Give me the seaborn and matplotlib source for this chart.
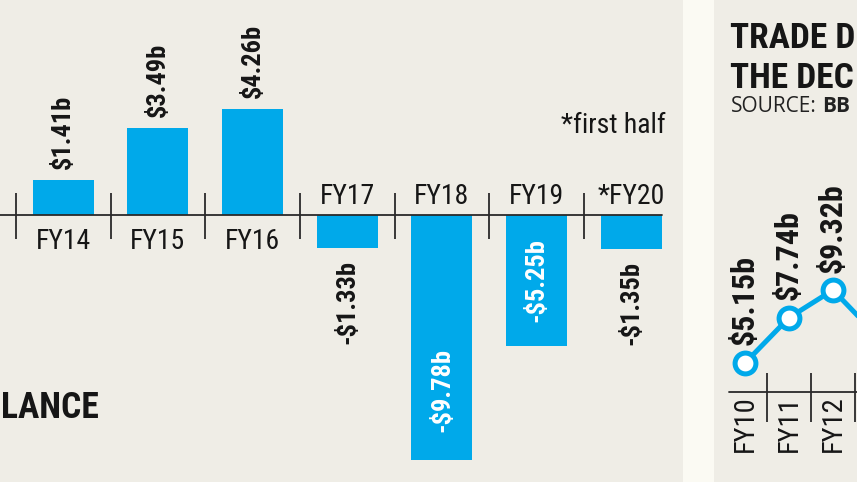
import matplotlib
matplotlib.use("Agg")
import matplotlib.pyplot as plt
from matplotlib import font_manager as fm
from matplotlib.font_manager import FontProperties
import seaborn as sns

# ---------------- data ----------------
balance_years = ["FY13", "FY14", "FY15", "FY16", "FY17", "FY18", "FY19", "*FY20"]
balance_values = [2.52, 1.41, 3.49, 4.26, -1.33, -9.78, -5.25, -1.35]

trade_years = ["FY10", "FY11", "FY12", "FY13"]
trade_values = [5.15, 7.74, 9.32, 6.7]

# ---------------- style ----------------
BLUE = "#00a9ea"
BEIGE = "#efede6"
GAP = "#fbfaf3"
INK = "#161616"

sns.set_theme(style="white")
plt.rcParams["font.family"] = ["DejaVu Sans"]


def pick_condensed(bold, extra=False):
    best = None
    for f in fm.fontManager.ttflist:
        fn = f.fname.lower()
        n = f.name.lower()
        st = str(f.stretch).lower()
        if not ("condensed" in fn or "narrow" in fn or "condensed" in n
                or "narrow" in n or "condensed" in st):
            continue
        if "italic" in fn or "oblique" in fn or str(f.style) != "normal":
            continue
        w = f.weight if isinstance(f.weight, int) else (700 if "bold" in str(f.weight) else 400)
        isbold = w >= 600 or "bold" in fn
        if "semibold" in fn or "extrabold" in fn or "black" in fn or "light" in fn \
                or "thin" in fn or "medium" in fn:
            continue
        if isbold != bold:
            continue
        flat = fn.replace("-", "").replace("_", "")
        score = 0
        if "noto" in fn:
            score += 40
        if "dejavu" in fn:
            score += 30
        if "roboto" in fn:
            score += 35
        if "liberation" in fn:
            score += 25
        if "semicondensed" in flat:
            score -= 5
        if "extracondensed" in flat:
            score += 20 if extra else -8
        if best is None or score > best[0]:
            best = (score, f.fname)
    return best[1] if best else None


REG = pick_condensed(False)
BLD = pick_condensed(True)
XBLD = pick_condensed(True, extra=True) or BLD


def fp(size, bold=False, extra=False):
    path = (XBLD if extra else BLD) if bold else REG
    if path:
        return FontProperties(fname=path, size=size)
    return FontProperties(family="DejaVu Sans", size=size * 0.78,
                          weight="bold" if bold else "normal")


WIDE = "Open Sans" if "Open Sans" in {f.name for f in fm.fontManager.ttflist} else "DejaVu Sans"

W, H = 857, 482
fig = plt.figure(figsize=(W / 100, H / 100), dpi=100, facecolor=GAP)
renderer = fig.canvas.get_renderer()


def fx(x):
    return x / W


def fy(y):
    return 1 - y / H


def fit(t, max_w):
    w = t.get_window_extent(renderer).width
    if w > max_w:
        t.set_fontsize(t.get_fontsize() * max_w / w)


def clean(ax):
    ax.set_xticks([])
    ax.set_yticks([])
    ax.set_xlabel("")
    ax.set_ylabel("")
    for s in ax.spines.values():
        s.set_visible(False)


# ---------------- left panel: balance bars ----------------
ax1 = fig.add_axes([0, 0, fx(683), 1])
ax1.set_facecolor(BEIGE)
sns.barplot(x=balance_years, y=balance_values, color=BLUE, saturation=1,
            width=0.644, ax=ax1, zorder=2, linewidth=0, edgecolor=BLUE)
ax1.set_xlim(0.333, 7.545)
ax1.set_ylim(-10.68, 8.6)
clean(ax1)

ax1.plot([0.333, 7.322], [0, 0], color="#2a2a2a", lw=1.3, zorder=3)
ax1.vlines([i + 0.5 for i in range(len(balance_years) - 1)], -0.96, 0.88,
           color="#2a2a2a", lw=1.3, zorder=3)

inside = {"FY18": "bottom", "FY19": "top"}
for i, (yr, v) in enumerate(zip(balance_years, balance_values)):
    if i == 0:
        continue  # FY13 lies beyond the visible crop
    lab = f"${v:.2f}b" if v >= 0 else f"-${abs(v):.2f}b"
    if v >= 0:
        ax1.text(i, v + 0.42, lab, rotation=90, ha="center", va="bottom",
                 fontproperties=fp(19, True), color=INK)
        ax1.text(i, -1.36, yr, ha="center", va="baseline",
                 fontproperties=fp(20), color=INK)
    else:
        if yr in inside:
            if inside[yr] == "bottom":
                ax1.text(i, v + 1.08, lab, rotation=90, ha="center", va="bottom",
                         fontproperties=fp(19, True), color="white", zorder=4)
            else:
                ax1.text(i, -0.92, lab, rotation=90, ha="center", va="top",
                         fontproperties=fp(19, True), color="white", zorder=4)
        else:
            ax1.text(i, v - 0.48, lab, rotation=90, ha="center", va="top",
                     fontproperties=fp(19, True), color=INK)
        ax1.text(i, 0.44, yr, ha="center", va="baseline",
                 fontproperties=fp(20), color=INK)

fig.text(fx(666), fy(133), "*first half", ha="right", va="baseline",
         fontproperties=fp(20), color=INK)
t = fig.text(fx(1), fy(418), "LANCE", ha="left", va="baseline",
             fontproperties=fp(31, True, True), color=INK)
fit(t, 98)

# ---------------- right panel: trade deficit line ----------------
ax2 = fig.add_axes([fx(714), 0, 1 - fx(714), 1])
ax2.set_facecolor(BEIGE)
sns.lineplot(x=trade_years, y=trade_values, ax=ax2, color=BLUE, lw=3.6,
             sort=False, marker="o", markersize=15, markeredgewidth=3.6,
             markerfacecolor="white", markeredgecolor=BLUE, zorder=3)
ax2.set_xlim(-0.705, 2.545)
ax2.set_ylim(-1.65, 25.89)
clean(ax2)

base = 5.15 - (392 - 363) / 17.5
ax2.plot([-0.364, 2.545], [base, base], color="#2a2a2a", lw=1.3, zorder=2)
ax2.vlines([0.5, 1.5, 2.5], base - (422 - 392) / 17.5, base + (392 - 373) / 17.5,
           color="#2a2a2a", lw=1.3, zorder=2)

for i, (yr, v) in enumerate(zip(trade_years, trade_values)):
    if i > 2:
        continue
    ax2.text(i, v + 1.0, f"${v:.2f}b", rotation=90, ha="center", va="bottom",
             fontproperties=fp(23, True), color=INK)
    ax2.text(i, base - 0.2, yr, rotation=90, ha="center", va="top",
             fontproperties=fp(20.5), color=INK)

t1 = fig.text(fx(730), fy(48), "TRADE D", ha="left", va="baseline",
              fontproperties=fp(30, True, True), color=INK)
fit(t1, 125)
t2 = fig.text(fx(730), fy(88), "THE DEC", ha="left", va="baseline",
              fontproperties=fp(30, True, True), color=INK)
t2.set_fontsize(t1.get_fontsize())
fit(t2, 125)
ts = fig.text(fx(731), fy(112.5), "SOURCE:", ha="left", va="baseline",
              fontsize=16, color="#222222", family=WIDE)
fit(ts, 86)
fig.text(fx(822), fy(112.5), "BB", ha="left", va="baseline",
         fontsize=ts.get_fontsize(), fontweight="bold", color="#222222", family=WIDE)

fig.savefig("out.png", dpi=100, facecolor=GAP)
